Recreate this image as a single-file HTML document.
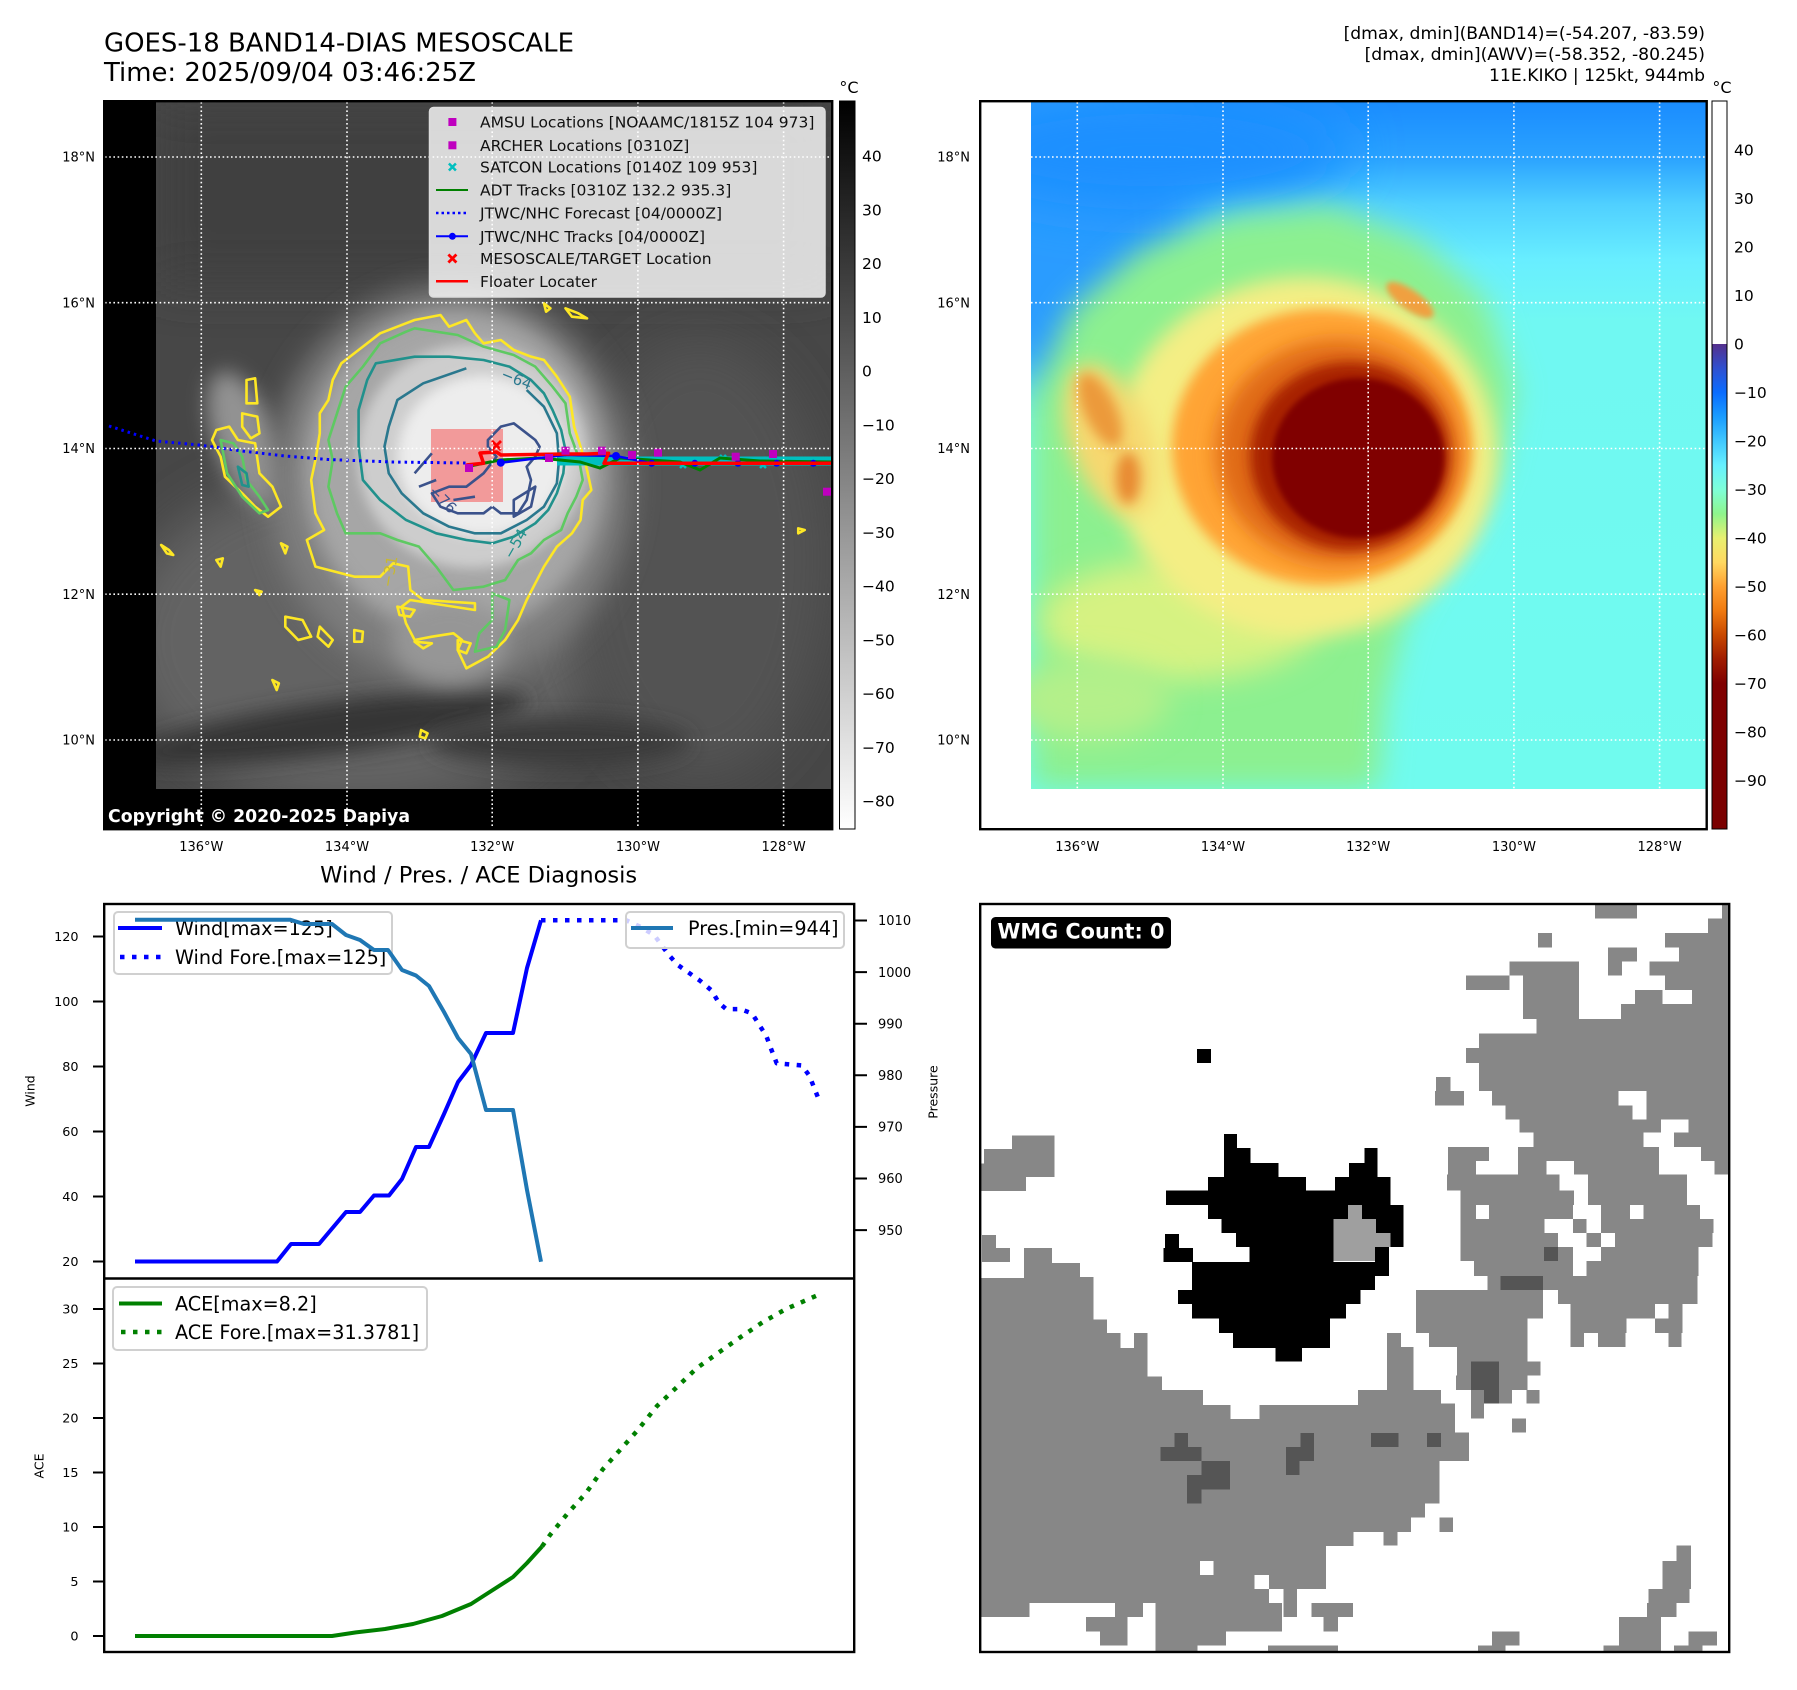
<!DOCTYPE html>
<html><head><meta charset="utf-8"><style>
html,body{margin:0;padding:0;background:#fff;}
svg{display:block;font-family:"DejaVu Sans","Liberation Sans",sans-serif;}
</style></head><body>
<svg width="1797" height="1690" viewBox="0 0 1797 1690" xmlns="http://www.w3.org/2000/svg">
<defs>
<filter id="b3" x="-50%" y="-50%" width="200%" height="200%"><feGaussianBlur stdDeviation="3"/></filter>
<filter id="b6" x="-50%" y="-50%" width="200%" height="200%"><feGaussianBlur stdDeviation="6"/></filter>
<filter id="b10" x="-50%" y="-50%" width="200%" height="200%"><feGaussianBlur stdDeviation="10"/></filter>
<filter id="b15" x="-50%" y="-50%" width="200%" height="200%"><feGaussianBlur stdDeviation="15"/></filter>
<filter id="b25" x="-50%" y="-50%" width="200%" height="200%"><feGaussianBlur stdDeviation="25"/></filter>
<linearGradient id="cb1" x1="0" y1="0" x2="0" y2="1"><stop offset="0" stop-color="#000"/><stop offset="1" stop-color="#fff"/></linearGradient>
<linearGradient id="cb2" x1="0" y1="0" x2="0" y2="1">
<stop offset="0" stop-color="#fff"/><stop offset=".3338" stop-color="#fff"/>
<stop offset=".3338" stop-color="#55308c"/><stop offset=".3671" stop-color="#3050d0"/>
<stop offset=".4004" stop-color="#0a6cff"/><stop offset=".4337" stop-color="#1a9cff"/>
<stop offset=".4670" stop-color="#40c8ff"/><stop offset=".5003" stop-color="#66f0ff"/>
<stop offset=".5337" stop-color="#7effd8"/><stop offset=".5670" stop-color="#8ef58c"/>
<stop offset=".6003" stop-color="#e8f070"/><stop offset=".6336" stop-color="#ffd860"/>
<stop offset=".6669" stop-color="#ffa030"/><stop offset=".7002" stop-color="#f07a10"/>
<stop offset=".7335" stop-color="#c84800"/><stop offset=".7668" stop-color="#a01c00"/>
<stop offset=".8001" stop-color="#800000"/><stop offset="1" stop-color="#7a0000"/>
</linearGradient>
<linearGradient id="sky" x1="0" y1="0" x2="0" y2="1">
<stop offset="0" stop-color="#1a8cff"/><stop offset=".08" stop-color="#2aa2ff"/>
<stop offset=".15" stop-color="#50d0ff"/><stop offset=".23" stop-color="#68eeff"/>
<stop offset=".32" stop-color="#70f8f2"/><stop offset="1" stop-color="#70fbee"/>
</linearGradient>
<clipPath id="c1"><rect x="156" y="102" width="676" height="687"/></clipPath>
<clipPath id="c1a"><rect x="105" y="102" width="727" height="727"/></clipPath>
<clipPath id="c2"><rect x="1031" y="102" width="675" height="687"/></clipPath>
<clipPath id="c4"><rect x="981" y="905" width="748" height="747"/></clipPath>
<clipPath id="c3a"><rect x="105" y="905" width="748" height="372"/></clipPath>
<clipPath id="c3b"><rect x="105" y="1279" width="748" height="373"/></clipPath>
</defs>

<!-- Titles -->
<text x="104" y="51.5" font-size="26" textLength="470" lengthAdjust="spacingAndGlyphs">GOES-18 BAND14-DIAS MESOSCALE</text>
<text x="104" y="81" font-size="26" textLength="372" lengthAdjust="spacingAndGlyphs">Time: 2025/09/04 03:46:25Z</text>
<text x="1705" y="39" font-size="17.2" text-anchor="end">[dmax, dmin](BAND14)=(-54.207, -83.59)</text>
<text x="1705" y="60" font-size="17.2" text-anchor="end">[dmax, dmin](AWV)=(-58.352, -80.245)</text>
<text x="1705" y="81" font-size="17.2" text-anchor="end">11E.KIKO | 125kt, 944mb</text>

<!-- ============ PANEL 1 ============ -->
<rect x="104" y="101" width="729" height="729" fill="#000"/>
<g clip-path="url(#c1)">
<rect x="156" y="102" width="676" height="687" fill="#474747"/>
<rect x="156" y="102" width="676" height="180" fill="#3f3f3f" filter="url(#b25)"/>
<ellipse cx="360" cy="640" rx="240" ry="170" fill="#636363" filter="url(#b25)"/>
<ellipse cx="700" cy="560" rx="130" ry="220" fill="#535353" filter="url(#b25)"/>
<ellipse cx="330" cy="728" rx="200" ry="26" fill="#363636" filter="url(#b10)" transform="rotate(-8 330 728)"/>
<ellipse cx="560" cy="742" rx="130" ry="24" fill="#3a3a3a" filter="url(#b10)"/>
<ellipse cx="245" cy="440" rx="30" ry="72" fill="#929292" filter="url(#b10)" transform="rotate(-20 245 440)"/>
<ellipse cx="450" cy="485" rx="180" ry="198" fill="#7e7e7e" filter="url(#b15)"/>
<ellipse cx="455" cy="472" rx="150" ry="162" fill="#a6a6a6" filter="url(#b10)"/>
<ellipse cx="450" cy="640" rx="58" ry="42" fill="#969696" filter="url(#b10)"/>
<ellipse cx="472" cy="456" rx="115" ry="112" fill="#cdcdcd" filter="url(#b6)"/>
<ellipse cx="482" cy="456" rx="84" ry="80" fill="#ededed" filter="url(#b6)"/>
<!-- pink rect -->
<rect x="431" y="429" width="72" height="73" fill="#f28b8b" opacity="0.85"/>
<!-- contours (zoom coords) -->
<g transform="translate(156,300) scale(0.43103,0.33333)" fill="none" stroke-width="2.6" stroke-linejoin="round">
<path vector-effect="non-scaling-stroke" stroke="#fde725" d="M600,60 L660,45 L680,80 L720,60 L740,100 L760,130 L800,120 L830,150 L870,170 L900,180 L930,230 L960,290 L970,380 L985,440 L1000,510 L1010,570 L990,600 L985,660 L965,700 L930,740 L900,800 L880,850 L860,900 L840,960 L810,1020 L770,1070 L720,1105 L700,1050 L710,1020 L690,1000 L640,1010 L600,1020 L580,970 L570,920 L590,900 L740,930 L740,910 L620,900 L590,870 L585,800 L550,790 L520,830 L460,830 L370,800 L350,720 L390,690 L370,640 L360,540 L370,480 L380,400 L380,340 L400,300 L410,240 L430,190 L470,150 L520,100 L580,70 Z"/>
<path vector-effect="non-scaling-stroke" stroke="#fde725" d="M140,390 L170,380 L190,420 L230,430 L240,520 L270,560 L290,620 L260,650 L230,620 L200,580 L160,530 L150,470 L130,420 Z M210,240 L230,235 L235,310 L210,310 Z M200,340 L235,350 L240,400 L220,415 L200,380 Z M300,950 L340,960 L360,1010 L330,1020 L300,980 Z M380,980 L410,1020 L400,1040 L375,1010 Z M460,990 L480,995 L478,1025 L460,1025 Z M560,920 L600,930 L590,950 L565,945 Z M600,1025 L640,1030 L620,1045 Z M700,1020 L730,1030 L720,1060 L700,1050 Z M900,10 L915,25 L905,35 Z M950,25 L980,40 L1000,55 L965,50 Z M1490,685 L1505,690 L1490,700 Z M615,1290 L630,1300 L625,1315 L612,1310 Z M12,735 L30,750 L40,765 L25,760 Z M140,780 L155,775 L150,800 Z M290,730 L305,740 L300,760 Z M270,1140 L285,1150 L280,1170 Z M230,870 L245,875 L240,885 Z"/>
<path vector-effect="non-scaling-stroke" stroke="#5ec962" d="M600,85 L700,105 L760,140 L830,165 L880,200 L920,260 L950,310 L960,400 L980,470 L990,540 L975,590 L955,640 L940,690 L900,720 L870,760 L840,780 L810,840 L760,860 L690,870 L650,800 L610,740 L560,720 L520,700 L440,700 L420,640 L400,560 L410,480 L400,420 L420,340 L440,260 L480,200 L520,130 L580,95 Z M780,880 L820,900 L810,990 L790,1040 L740,1055 L750,1000 L780,960 Z M150,420 L180,430 L200,470 L210,540 L240,590 L260,630 L240,640 L200,590 L165,520 Z"/>
<path vector-effect="non-scaling-stroke" stroke="#21918c" d="M510,190 L600,170 L680,170 L760,180 L820,200 L870,240 L900,280 L920,330 L940,390 L950,450 L945,520 L930,580 L910,630 L880,670 L830,710 L780,730 L720,720 L650,700 L580,660 L520,600 L480,540 L470,440 L470,330 L490,240 Z M190,500 L210,520 L215,560 L200,555 Z"/>
<path vector-effect="non-scaling-stroke" stroke="#2a788e" d="M720,205 L620,250 L560,300 L540,380 L530,440 L540,520 L570,580 L620,640 L680,680 L740,700 L800,700 L860,660 L900,620 L930,550 L935,480 L930,400 L900,320 L860,270"/>
<path vector-effect="non-scaling-stroke" stroke="#3b528b" d="M770,420 L800,380 L830,370 L860,400 L880,420 L890,440 L880,470 L860,500 L870,540 L860,600 L840,640 L800,640 L780,620 L760,640 L700,640 L660,620 L640,580 L680,560 L720,560 L760,520 L790,470 L770,440 Z M830,600 L880,560 L870,620 L830,650 Z M600,520 L640,460 M610,560 L650,540 M690,600 L740,590"/>
</g>
<text x="500" y="378" font-size="15" fill="#2a788e" transform="rotate(22 500 378)">−64</text>
<text x="512" y="560" font-size="15" fill="#21918c" transform="rotate(-60 512 560)">−54</text>
<text x="428" y="492" font-size="15" fill="#3b528b" transform="rotate(45 428 492)">−76</text>
<text x="392" y="588" font-size="15" fill="#c8b830" transform="rotate(-80 392 588)">−31</text>
</g>
<!-- tracks panel1 -->
<g clip-path="url(#c1a)">
<polyline points="557,461 600,461 650,461 700,461 750,461 832,461" fill="none" stroke="#00bfbf" stroke-width="9"/>
<path d="M560,452 l6,6 m0,-6 l-6,6 M600,455 l6,6 m0,-6 l-6,6 M640,458 l6,6 m0,-6 l-6,6 M680,462 l6,6 m0,-6 l-6,6 M720,455 l6,6 m0,-6 l-6,6 M760,462 l6,6 m0,-6 l-6,6" stroke="#00bfbf" stroke-width="2.5"/>
<polyline points="470,466 500,460 540,458 580,462 600,468 620,458 680,462 700,470 720,458 760,461 832,462" fill="none" stroke="#008000" stroke-width="3"/>
<polyline points="109,426 156,441 199,445 242,451 285,456 328,459.5 393,462 466,463" fill="none" stroke="#0000ff" stroke-width="3" stroke-dasharray="2.5 4"/>
<polyline points="500.8,462.7 531,459 565.5,455 616,456 651.7,463.3 694.8,463.3 738,463.3 776.7,463.3 813.3,463.3 832,463.3" fill="none" stroke="#0000ff" stroke-width="2.5"/>
<g fill="#0000ff"><circle cx="500.8" cy="462.7" r="4"/><circle cx="616" cy="456" r="4"/><circle cx="651.7" cy="463.3" r="3.5"/><circle cx="694.8" cy="463.3" r="3.5"/><circle cx="738" cy="463.3" r="3.5"/><circle cx="776.7" cy="463.3" r="3.5"/><circle cx="813.3" cy="463.3" r="3.5"/></g>
<polyline points="466.3,465 483.6,463.3 480,453 496.5,452 501,455 565.5,454 587,454 608.6,453.3 604,463.3 832,463.3" fill="none" stroke="#ff0000" stroke-width="3.5" stroke-linejoin="round"/>
<g fill="#bf00bf"><rect x="465" y="464" width="8" height="8"/><rect x="545" y="454" width="8" height="8"/><rect x="561.5" y="446.7" width="8" height="8"/><rect x="598" y="446.7" width="8" height="8"/><rect x="628" y="451" width="8" height="8"/><rect x="654" y="448.7" width="8" height="8"/><rect x="731.7" y="452.7" width="8" height="8"/><rect x="769" y="450" width="8" height="8"/><rect x="823" y="487.7" width="8" height="8"/></g>
<path d="M492,441 l9,9 m0,-9 l-9,9" stroke="#ff0000" stroke-width="2.8"/>
</g>
<!-- gridlines panel1 -->
<g stroke="#fff" stroke-width="1.6" stroke-dasharray="1.6 2.6" fill="none">
<path d="M105,157H831 M105,302.7H831 M105,448.5H831 M105,594.2H831 M105,740H831"/>
<path d="M201.3,102V828 M347,102V828 M492.2,102V828 M637.9,102V828 M783.6,102V828"/>
</g>
<!-- legend panel1 -->
<rect x="429.5" y="107.5" width="395.5" height="189.5" rx="4" fill="#fff" fill-opacity="0.8" stroke="#ddd" stroke-width="1.5"/>
<rect x="448.4" y="118" width="8" height="8" fill="#bf00bf"/>
<rect x="448.4" y="141.3" width="8" height="8" fill="#bf00bf"/>
<path d="M448.9,163.5 l7,7 m0,-7 l-7,7" stroke="#00bfbf" stroke-width="2.5"/>
<line x1="436" y1="190" x2="468" y2="190" stroke="#008000" stroke-width="2"/>
<line x1="436" y1="213" x2="468" y2="213" stroke="#0000ff" stroke-width="2.5" stroke-dasharray="2.5 3"/>
<line x1="436" y1="236.3" x2="468" y2="236.3" stroke="#0000ff" stroke-width="2"/><circle cx="452.4" cy="236.3" r="3.5" fill="#0000ff"/>
<path d="M448.4,254.5 l8,8 m0,-8 l-8,8" stroke="#ff0000" stroke-width="2.8"/>
<line x1="436" y1="281.3" x2="468" y2="281.3" stroke="#ff0000" stroke-width="2.5"/>
<g font-size="15.5" fill="#111">
<text x="480" y="127.5">AMSU Locations [NOAAMC/1815Z 104 973]</text>
<text x="480" y="150.8">ARCHER Locations [0310Z]</text>
<text x="480" y="172.5">SATCON Locations [0140Z 109 953]</text>
<text x="480" y="195.5">ADT Tracks [0310Z 132.2 935.3]</text>
<text x="480" y="218.5">JTWC/NHC Forecast [04/0000Z]</text>
<text x="480" y="241.8">JTWC/NHC Tracks [04/0000Z]</text>
<text x="480" y="264">MESOSCALE/TARGET Location</text>
<text x="480" y="286.8">Floater Locater</text>
</g>
<text x="108" y="822" font-size="17.5" font-weight="bold" fill="#fff" textLength="302" lengthAdjust="spacingAndGlyphs">Copyright © 2020-2025 Dapiya</text>
<rect x="104.2" y="101.2" width="728" height="728" fill="none" stroke="#000" stroke-width="2.4"/>
<!-- colorbar1 -->
<rect x="839.5" y="101" width="15.5" height="728" fill="url(#cb1)" stroke="#000" stroke-width="1"/>
<text x="849" y="93" font-size="16" text-anchor="middle">°C</text>
<g font-size="15.5">
<text x="862" y="161.6">40</text><text x="862" y="215.4">30</text><text x="862" y="269.1">20</text><text x="862" y="322.9">10</text><text x="862" y="376.6">0</text>
<text x="862" y="430.4">−10</text><text x="862" y="484.1">−20</text><text x="862" y="537.9">−30</text><text x="862" y="591.6">−40</text><text x="862" y="645.4">−50</text><text x="862" y="699.1">−60</text><text x="862" y="752.9">−70</text><text x="862" y="806.6">−80</text>
</g>
<!-- axis labels panel1 -->
<g font-size="13" text-anchor="end">
<text x="95" y="161.7">18°N</text><text x="95" y="307.4">16°N</text><text x="95" y="453.2">14°N</text><text x="95" y="598.9">12°N</text><text x="95" y="744.7">10°N</text>
</g>
<g font-size="13" text-anchor="middle">
<text x="201.3" y="851">136°W</text><text x="347" y="851">134°W</text><text x="492.2" y="851">132°W</text><text x="637.9" y="851">130°W</text><text x="783.6" y="851">128°W</text>
</g>

<!-- ============ PANEL 2 ============ -->
<g clip-path="url(#c2)">
<rect x="1031" y="102" width="675" height="687" fill="url(#sky)"/>
<ellipse cx="1075" cy="230" rx="120" ry="170" fill="#2a9cff" filter="url(#b25)"/>
<ellipse cx="1150" cy="150" rx="200" ry="60" fill="#1e90ff" filter="url(#b25)"/>
<polygon points="1031,400 1070,310 1140,250 1230,215 1330,205 1420,240 1485,300 1515,390 1495,480 1445,545 1405,620 1385,700 1378,789 1031,789" fill="#8cf090" filter="url(#b15)"/>
<ellipse cx="1180" cy="620" rx="140" ry="60" fill="#d6f282" filter="url(#b15)"/>
<ellipse cx="1090" cy="700" rx="80" ry="40" fill="#b4f08a" filter="url(#b15)"/>
<ellipse cx="1305" cy="457" rx="192" ry="180" fill="#f4ee84" filter="url(#b10)"/>
<ellipse cx="1110" cy="440" rx="40" ry="80" fill="#f6d870" filter="url(#b10)" transform="rotate(-20 1110 440)"/>
<ellipse cx="1100" cy="410" rx="16" ry="40" fill="#ec9a3a" filter="url(#b6)" transform="rotate(-25 1100 410)"/>
<ellipse cx="1128" cy="478" rx="12" ry="26" fill="#e88a30" filter="url(#b6)"/>
<ellipse cx="1410" cy="300" rx="28" ry="10" fill="#f0a040" filter="url(#b3)" transform="rotate(35 1410 300)"/>
<ellipse cx="1322" cy="447" rx="150" ry="138" fill="#ffa436" filter="url(#b6)"/>
<ellipse cx="1338" cy="452" rx="122" ry="112" fill="#e06a14" filter="url(#b10)"/>
<ellipse cx="1350" cy="456" rx="100" ry="94" fill="#a82000" filter="url(#b6)"/>
<ellipse cx="1358" cy="458" rx="86" ry="80" fill="#800000" filter="url(#b3)"/>
</g>
<g stroke="#fff" stroke-width="1.6" stroke-dasharray="1.6 2.6" fill="none">
<path d="M1031,157H1706 M1031,302.7H1706 M1031,448.5H1706 M1031,594.2H1706 M1031,740H1706"/>
<path d="M1077.3,102V789 M1223,102V789 M1368.2,102V789 M1513.9,102V789 M1659.6,102V789"/>
</g>
<rect x="980.2" y="101.2" width="726.5" height="728" fill="none" stroke="#000" stroke-width="2.4"/>
<rect x="1712" y="101" width="15" height="728" fill="url(#cb2)" stroke="#000" stroke-width="1"/>
<text x="1722" y="93" font-size="16" text-anchor="middle">°C</text>
<g font-size="15.5">
<text x="1734" y="155.6">40</text><text x="1734" y="204.1">30</text><text x="1734" y="252.6">20</text><text x="1734" y="301.1">10</text><text x="1734" y="349.6">0</text>
<text x="1734" y="398.1">−10</text><text x="1734" y="446.6">−20</text><text x="1734" y="495.1">−30</text><text x="1734" y="543.6">−40</text><text x="1734" y="592.1">−50</text><text x="1734" y="640.6">−60</text><text x="1734" y="689.1">−70</text><text x="1734" y="737.6">−80</text><text x="1734" y="786.1">−90</text>
</g>
<g font-size="13" text-anchor="end">
<text x="970" y="161.7">18°N</text><text x="970" y="307.4">16°N</text><text x="970" y="453.2">14°N</text><text x="970" y="598.9">12°N</text><text x="970" y="744.7">10°N</text>
</g>
<g font-size="13" text-anchor="middle">
<text x="1077.3" y="851">136°W</text><text x="1223" y="851">134°W</text><text x="1368.2" y="851">132°W</text><text x="1513.9" y="851">130°W</text><text x="1659.6" y="851">128°W</text>
</g>

<!-- ============ BOTTOM LEFT ============ -->
<text x="478.7" y="882.3" font-size="22.4" text-anchor="middle" textLength="317" lengthAdjust="spacingAndGlyphs">Wind / Pres. / ACE Diagnosis</text>
<!-- wind legend -->
<rect x="114" y="912" width="278" height="62" rx="4" fill="#fff" fill-opacity="0.8" stroke="#d0d0d0" stroke-width="2"/>
<line x1="118" y1="928" x2="162" y2="928" stroke="#0000ff" stroke-width="4"/>
<line x1="120" y1="957" x2="162" y2="957" stroke="#0000ff" stroke-width="4.5" stroke-dasharray="4.5 7.5"/>
<text x="175" y="934.9" font-size="19.2">Wind[max=125]</text>
<text x="175" y="963.9" font-size="19.2">Wind Fore.[max=125]</text>
<g clip-path="url(#c3a)" fill="none" stroke-linejoin="round">
<polyline points="135,1261.5 277,1261.5 291,1244 319,1244 346,1212 360,1212 374,1195.5 389,1195.5 402,1179 416,1147 429,1147 444,1114 458,1082 471,1065 486,1033 513,1033 527,968 541,920.3" stroke="#0000ff" stroke-width="4"/>
<polyline points="541,920.3 626,920.2 640,926.7 654,934.9 668.8,954.9 677.4,964.7 688.9,972.8 700.3,980.9 711.8,990.7 718.7,1002.6 726.2,1009.1 740.5,1009.1 752,1013.4 758.9,1024.3 766.4,1036.2 771,1048.7 776.7,1063.3 802,1065.5 809.4,1075.8 818,1097.5" stroke="#0000ff" stroke-width="4.5" stroke-dasharray="4.5 7.5"/>
<polyline points="135,919.7 290,919.7 304,924 332,924 346,935 360,940 374,950 388,950 402,970 416,975.5 429,986 444,1012 458,1038 471,1054 486,1110 513,1110 527,1190 541,1261.7" stroke="#1f77b4" stroke-width="4"/>
</g>
<rect x="626" y="912" width="218" height="36" rx="4" fill="#fff" fill-opacity="0.8" stroke="#d0d0d0" stroke-width="2"/>
<line x1="631" y1="928" x2="673" y2="928" stroke="#1f77b4" stroke-width="4"/>
<text x="688" y="934.9" font-size="19.2">Pres.[min=944]</text>
<!-- ACE -->
<rect x="113" y="1287" width="314" height="63" rx="4" fill="#fff" fill-opacity="0.8" stroke="#d0d0d0" stroke-width="2"/>
<line x1="119" y1="1303.5" x2="162" y2="1303.5" stroke="#008000" stroke-width="4"/>
<line x1="121" y1="1332" x2="162" y2="1332" stroke="#008000" stroke-width="4.5" stroke-dasharray="4.5 7.5"/>
<text x="175" y="1310.5" font-size="19.2">ACE[max=8.2]</text>
<text x="175" y="1339" font-size="19.2">ACE Fore.[max=31.3781]</text>
<g clip-path="url(#c3b)" fill="none" stroke-linejoin="round">
<polyline points="135,1636 332,1636 356,1632.4 385,1629 413,1624 442,1616 471,1604 485,1595 513,1577 527,1563 542,1546.5" stroke="#008000" stroke-width="4"/>
<polyline points="542,1546.5 550,1535 568,1513 586,1493 603,1469 620,1450 637,1431 657,1406 677,1387 697,1368 718,1353 740,1337.5 763,1322 786,1309 818,1295" stroke="#008000" stroke-width="4.5" stroke-dasharray="4.5 7.5"/>
</g>
<rect x="104.2" y="904" width="750" height="748" fill="none" stroke="#000" stroke-width="2.4"/>
<line x1="104" y1="1278.5" x2="855" y2="1278.5" stroke="#000" stroke-width="2.4"/>
<!-- ticks -->
<g stroke="#000" stroke-width="2">
<path d="M93,936.5H103 M93,1001.5H103 M93,1066.5H103 M93,1131.5H103 M93,1196.5H103 M93,1261.5H103"/>
<path d="M93,1309H103 M93,1363.5H103 M93,1418H103 M93,1472.5H103 M93,1527H103 M93,1581.5H103 M93,1636H103"/>
<path d="M855,920.5H867 M855,972.1H867 M855,1023.7H867 M855,1075.3H867 M855,1126.9H867 M855,1178.5H867 M855,1230.1H867"/>
</g>
<g font-size="12.8" text-anchor="end">
<text x="78.5" y="941">120</text><text x="78.5" y="1006">100</text><text x="78.5" y="1071">80</text><text x="78.5" y="1136">60</text><text x="78.5" y="1201">40</text><text x="78.5" y="1266">20</text>
<text x="78.5" y="1313.5">30</text><text x="78.5" y="1368">25</text><text x="78.5" y="1422.5">20</text><text x="78.5" y="1477">15</text><text x="78.5" y="1531.5">10</text><text x="78.5" y="1586">5</text><text x="78.5" y="1640.5">0</text>
</g>
<g font-size="13">
<text x="878" y="925.2">1010</text><text x="878" y="976.8">1000</text><text x="878" y="1028.4">990</text><text x="878" y="1080">980</text><text x="878" y="1131.6">970</text><text x="878" y="1183.2">960</text><text x="878" y="1234.8">950</text>
</g>
<text font-size="12.5" text-anchor="middle" dominant-baseline="central" transform="translate(30,1091) rotate(-90)">Wind</text>
<text font-size="12.5" text-anchor="middle" dominant-baseline="central" transform="translate(39,1466) rotate(-90)">ACE</text>
<text font-size="12.5" text-anchor="middle" dominant-baseline="central" transform="translate(933,1092) rotate(-90)">Pressure</text>

<!-- ============ WMG PANEL ============ -->
<g clip-path="url(#c4)">
<rect x="980" y="904" width="750" height="748" fill="#fff"/>
<g transform="translate(900,840) scale(0.57208,0.54201)" shape-rendering="crispEdges">
<path fill="#878787" d="M196 545H270V622H220V648H140V597H147V570H196Z M143 729H168V753H192V779H143Z
M140 808H217V753H266V780H315V806H338V885H362V910H385V937H409V910H433V990H458V1015H530V1042H578V1068H628V1042H801V1015H851V910H876V935H898V1015H946V1040H970V1093H995V1146H943V1224H918V1250H893V1277H793V1303H745V1382H694V1434H670V1382H645V1408H668V1460H570V1486H520V1500H447V1408H425V1434H398V1486H350V1460H325V1434H376V1408H226V1434H140Z
M719 1408H792V1434H766V1460H740V1434H719Z M845 1277H870V1302H845Z M943 1250H967V1277H943Z M1070 1067H1094V1093H1070Z M1095 1015H1118V1040H1095Z
M1010 1486H1035V1460H1083V1486H1058V1500H1010Z M643 1486H766V1500H643Z
M1357 1302H1383V1382H1380V1408H1357V1434H1330V1500H1230V1486H1257V1434H1306V1408H1308V1382H1333V1330H1357Z
M1378 1460H1428V1486H1403V1500H1353V1486H1378Z
M1215 118H1288V145H1215Z M1437 118H1448V145H1437Z M1412 145H1448V172H1412Z M1115 172H1140V198H1115Z M1337 172H1448V198H1337Z
M1238 198H1288V224H1238Z M1362 198H1448V224H1362Z M1065 224H1187V250H1065Z M1238 224H1262V250H1238Z M1310 224H1448V250H1310Z
M989 250H1065V277H989Z M1089 250H1187V277H1089Z M1337 250H1448V277H1337Z M1089 277H1187V303H1089Z M1285 277H1333V303H1285Z M1384 277H1448V303H1384Z
M1089 303H1187V330H1089Z M1260 303H1448V330H1260Z M1113 330H1448V357H1113Z M1012 357H1448V384H1012Z M989 384H1448V411H989Z M1012 411H1448V437H1012Z
M937 437H962V463H937Z M1012 437H1448V463H1012Z M935 463H986V490H935Z M1035 463H1256V490H1035Z M1305 463H1448V490H1305Z
M1058 490H1280V516H1058Z M1305 490H1448V516H1305Z M1083 516H1330V540H1083Z M1378 516H1448V540H1378Z M1107 540H1300V566H1107Z M1353 540H1448V566H1353Z
M958 566H1030V592H958Z M1080 566H1327V592H1080Z M1400 566H1448V592H1400Z M958 592H1007V617H958Z M1080 592H1130V617H1080Z M1178 592H1327V617H1178Z M1424 592H1448V617H1424Z
M956 617H1153V647H956Z M1203 617H1376V647H1203Z M980 647H1178V673H980Z M1203 647H1376V673H1203Z
M980 673H1007V699H980Z M1030 673H1176V699H1030Z M1225 673H1276V699H1225Z M1300 673H1398V699H1300Z
M980 699H1127V725H980Z M1176 699H1200V725H1176Z M1225 699H1422V725H1225Z
M980 725H1150V751H980Z M1200 725H1225V751H1200Z M1250 725H1420V751H1250Z
M980 751H1126V777H980Z M1150 751H1176V777H1150Z M1225 751H1396V777H1225Z
M1003 777H1176V804H1003Z M1200 777H1396V804H1200Z M1027 804H1394V830H1027Z
M902 830H1124V856H902Z M1150 830H1394V856H1150Z M902 856H1124V883H902Z M1172 856H1320V883H1172Z M1343 856H1368V883H1343Z
M902 883H1097V910H902Z M1172 883H1270V910H1172Z M1320 883H1368V910H1320Z
M925 910H1097V935H925Z M1172 910H1196V935H1172Z M1220 910H1268V935H1220Z M1343 910H1366V935H1343Z
M974 935H1097V962H974Z M974 962H1120V988H974Z M972 988H1097V1015H972Z M998 1015H1070V1040H998Z M998 1040H1021V1067H998Z"/>
<path fill="#fff" d="M524 1330H548V1356H524Z M620 1356H645V1382H620Z"/>
<path fill="#555" d="M480 1094H503V1120H480Z M455 1120H527V1146H455Z M527 1146H577V1198H527Z M502 1172H527V1224H502Z M700 1094H724V1120H700Z M675 1120H724V1146H675Z M675 1146H698V1172H675Z M823 1094H871V1120H823Z M921 1094H946V1120H921Z M998 962H1047V1015H998Z M1021 1015H1047V1040H1021Z M1126 751H1150V777H1126Z M1050 804H1124V830H1050Z"/>
<path fill="#000" d="M566 542H589V568H566Z M566 568H613V596H566Z M566 596H662V622H566Z M812 568H835V596H812Z M785 596H835V622H785Z
M538 622H710V647H538Z M760 622H857V647H760Z M465 647H857V673H465Z
M538 673H783V699H538Z M808 673H880V699H808Z M562 699H758V725H562Z M832 699H880V725H832Z
M463 727H488V753H463Z M587 725H758V751H587Z M857 725H880V751H857Z
M461 753H512V779H461Z M611 751H758V779H611Z M830 751H855V779H830Z
M510 779H855V804H510Z M510 804H830V830H510Z M486 830H805V856H486Z M510 856H780V883H510Z M558 883H752V910H558Z M582 910H752V937H582Z M656 937H703V962H656Z M519 386H544V411H519Z"/>
<path fill="#9f9f9f" d="M783 673H808V699H783Z M758 699H832V725H758Z M758 725H857V751H758Z M758 751H830V777H758Z"/>
</g>
</g>
<rect x="991" y="917" width="180" height="31.5" rx="4.5" fill="#000"/>
<text x="997.5" y="938.5" font-size="21" font-weight="bold" fill="#fff" textLength="167" lengthAdjust="spacingAndGlyphs">WMG Count: 0</text>
<rect x="980.2" y="904" width="749" height="748" fill="none" stroke="#000" stroke-width="2.4"/>
</svg>
</body></html>
